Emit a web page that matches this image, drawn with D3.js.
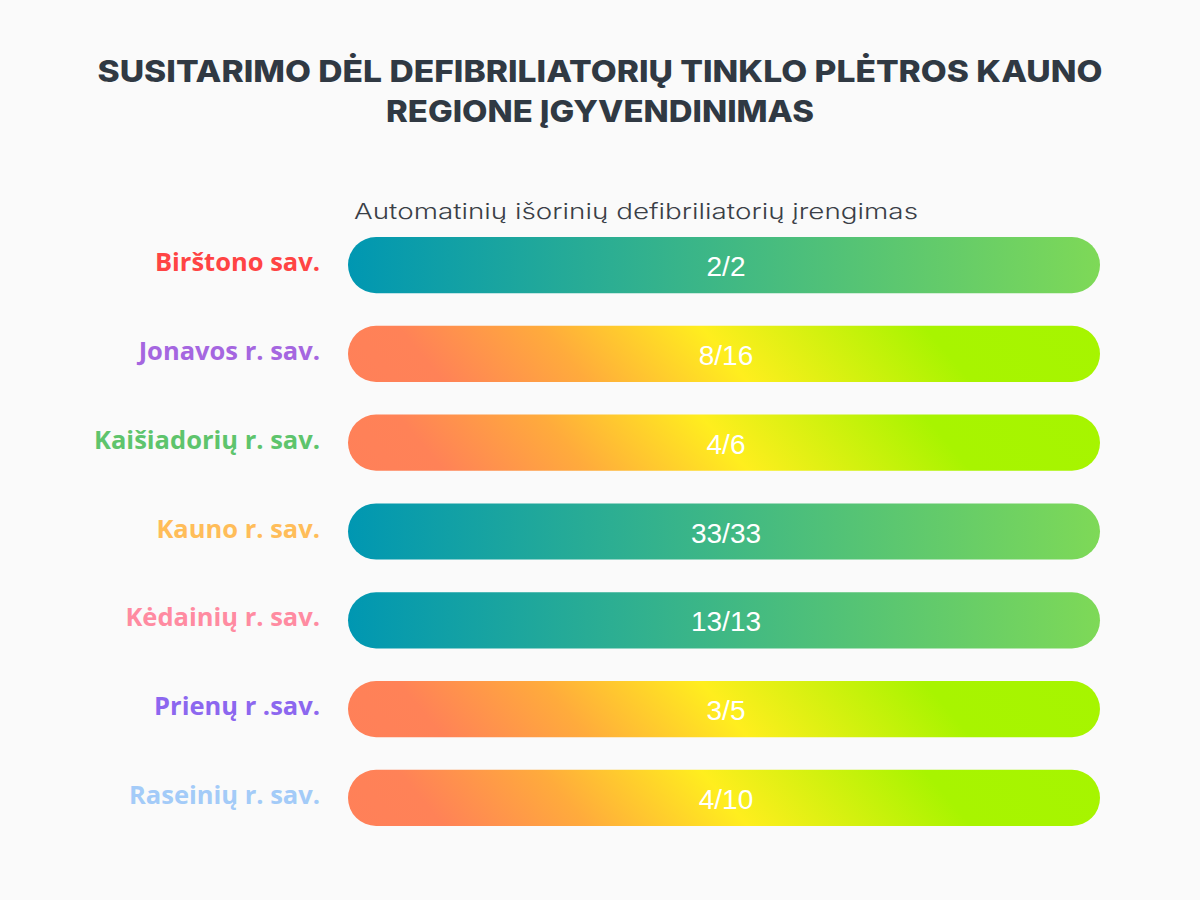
<!DOCTYPE html>
<html>
<head>
<meta charset="utf-8">
<script src="https://cdn.jsdelivr.net/npm/d3@7"></script>
<style>
  body { margin: 0; background: #fafafa; }
  svg { display: block; }
</style>
</head>
<body>
<div class="chart"></div>
<script>

// data
const municipalities = ["Birštono sav.", "Jonavos r. sav.", "Kaišiadorių r. sav.", "Kauno r. sav.",
                        "Kėdainių r. sav.", "Prienų r .sav.", "Raseinių r. sav."];
const installed = [2, 8, 4, 33, 13, 3, 4];
const planned = [2, 16, 6, 33, 13, 5, 10];
const labelColors = ["#ff4444", "#a566e0", "#5ec46c", "#ffbd59", "#ff8ba1", "#8c67ef", "#a3cbf8"];

const titleLines = ["SUSITARIMO DĖL DEFIBRILIATORIŲ TINKLO PLĖTROS KAUNO", "REGIONE ĮGYVENDINIMAS"];
const subtitle = "Automatinių išorinių defibriliatorių įrengimas";

const width = 1200, height = 900;

const svg = d3.select(".chart").append("svg")
    .attr("width", width)
    .attr("height", height);

svg.append("rect").attr("width", width).attr("height", height).attr("fill", "#fafafa");

// title
svg.selectAll(".title")
    .data(titleLines)
    .enter().append("text")
    .attr("class", "title")
    .attr("x", 600)
    .attr("y", (d, i) => 82 + i * 40)
    .attr("text-anchor", "middle")
    .attr("font-family", "Inter, 'Open Sans', sans-serif")
    .attr("font-weight", 800)
    .attr("font-size", 30)
    .attr("fill", "#303943")
    .attr("textLength", (d, i) => i === 0 ? 1005 : 428)
    .attr("lengthAdjust", "spacingAndGlyphs")
    .text(d => d);

svg.append("text")
    .attr("x", 354)
    .attr("y", 219)
    .attr("font-family", "Inter, 'Open Sans', sans-serif")
    .attr("font-weight", 300)
    .attr("font-size", 22)
    .attr("fill", "#3a3f47")
    .attr("textLength", 564)
    .attr("lengthAdjust", "spacingAndGlyphs")
    .text(subtitle);

// scales
const xScale = d3.scaleLinear().domain([0, 1]).range([348, 1100]);
const yScale = d3.scaleBand().domain(municipalities).range([237, 826]).paddingInner(0.368).paddingOuter(0);

// every bar shows the whole plan; the fill tells whether it is done
const rows = municipalities.map((m, i) => ({
    name: m, done: installed[i], plan: planned[i], color: labelColors[i], share: planned[i] / planned[i]
}));

// gradients: finished plan -> teal/green, unfinished -> orange/yellow/lime diagonal
const defs = svg.append("defs");
const ang = 40 * Math.PI / 180;
rows.forEach((d, i) => {
    const x0 = xScale(0), x1 = xScale(d.share);
    const y0 = yScale(d.name), bh = yScale.bandwidth();
    let g;
    if (d.done === d.plan) {
        g = defs.append("linearGradient").attr("id", "grad" + i)
            .attr("gradientUnits", "userSpaceOnUse")
            .attr("x1", x0).attr("y1", 0).attr("x2", x1).attr("y2", 0);
        g.append("stop").attr("offset", 0).attr("stop-color", "#0097b2");
        g.append("stop").attr("offset", 1).attr("stop-color", "#7ed957");
    } else {
        const len = (x1 - x0) * Math.cos(ang) + bh * Math.sin(ang);
        g = defs.append("linearGradient").attr("id", "grad" + i)
            .attr("gradientUnits", "userSpaceOnUse")
            .attr("x1", x0).attr("y1", y0 + bh)
            .attr("x2", x0 + len * Math.cos(ang)).attr("y2", y0 + bh - len * Math.sin(ang));
        g.append("stop").attr("offset", 0).attr("stop-color", "#ff8059");
        g.append("stop").attr("offset", 0.12).attr("stop-color", "#ff8257");
        g.append("stop").attr("offset", 0.3).attr("stop-color", "#ffab3c");
        g.append("stop").attr("offset", 0.5).attr("stop-color", "#ffee1e");
        g.append("stop").attr("offset", 0.78).attr("stop-color", "#a8f400");
        g.append("stop").attr("offset", 1).attr("stop-color", "#a6f500");
    }
});

// bars
svg.selectAll(".bar")
    .data(rows)
    .enter().append("rect")
    .attr("class", "bar")
    .attr("x", xScale(0))
    .attr("y", d => yScale(d.name))
    .attr("width", d => xScale(d.share) - xScale(0))
    .attr("height", yScale.bandwidth())
    .attr("rx", yScale.bandwidth() / 2)
    .attr("fill", (d, i) => `url(#grad${i})`);

// values inside the bars
svg.selectAll(".value")
    .data(rows)
    .enter().append("text")
    .attr("class", "value")
    .attr("x", d => (xScale(0) + xScale(d.share)) / 2 + 2)
    .attr("y", d => yScale(d.name) + yScale.bandwidth() / 2 + 1)
    .attr("dy", "0.36em")
    .attr("text-anchor", "middle")
    .attr("font-family", "'Liberation Sans', Arial, sans-serif")
    .attr("font-size", 28)
    .attr("fill", "#ffffff")
    .text(d => d.done + "/" + d.plan);

// municipality labels
svg.selectAll(".label")
    .data(rows)
    .enter().append("text")
    .attr("class", "label")
    .attr("x", 320)
    .attr("y", d => yScale(d.name) + yScale.bandwidth() / 2 - 3)
    .attr("dy", "0.36em")
    .attr("text-anchor", "end")
    .attr("font-family", "'Open Sans', sans-serif")
    .attr("font-weight", 700)
    .attr("font-size", 25.5)
    .attr("fill", d => d.color)
    .text(d => d.name);

</script>
</body>
</html>
